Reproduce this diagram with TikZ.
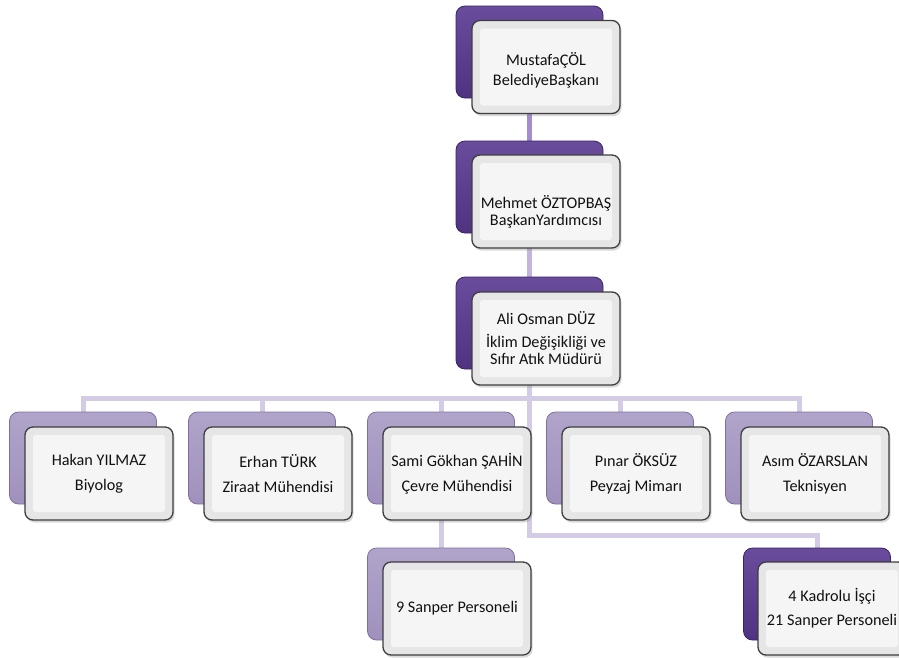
\documentclass[tikz,border=0pt]{standalone}
\usepackage{fontspec}
\setmainfont{Carlito}
\usetikzlibrary{shadows}
\definecolor{dptop}{HTML}{6A4C9C}
\definecolor{dpbot}{HTML}{503282}
\definecolor{dpline}{HTML}{3A2266}
\definecolor{lptop}{HTML}{B0A4CA}
\definecolor{lpbot}{HTML}{9F91BC}
\definecolor{lpline}{HTML}{7E709E}
\definecolor{rim}{HTML}{E6E6E6}
\definecolor{innerc}{HTML}{F5F5F5}
\definecolor{boxline}{HTML}{3E3E3E}
\definecolor{txt}{HTML}{111111}
\definecolor{lavA}{HTML}{A38DCB}
\definecolor{lavB}{HTML}{C2B6DC}
\definecolor{lav}{HTML}{D3CCE4}
\pgfdeclarelayer{bg}
\pgfsetlayers{bg,main}
\tikzset{
  frontbox/.style={draw=boxline, line width=1.3pt, rounded corners=8pt, fill=rim,
    minimum width=148pt, minimum height=93pt, inner sep=0pt, align=center, text=txt,
    font=\fontsize{16.2}{18}\selectfont,
    drop shadow={opacity=0.3, shadow xshift=1.5pt, shadow yshift=-2.5pt},
    path picture={\fill[innerc, rounded corners=3pt]
      ([shift={(8pt,8pt)}]path picture bounding box.south west) rectangle
      ([shift={(-8pt,-8pt)}]path picture bounding box.north east);}},
  darkback/.style={draw=dpline, line width=.8pt, rounded corners=9pt,
    top color=dptop, bottom color=dpbot, minimum width=147pt, minimum height=92pt},
  lightback/.style={draw=lpline, line width=.8pt, rounded corners=9pt,
    top color=lptop, bottom color=lpbot, minimum width=147pt, minimum height=92pt},
  conn/.style={line width=5pt, draw=lav}
}
\begin{document}
\begin{tikzpicture}[x=1pt, y=-1pt]
\useasboundingbox (0,0) rectangle (899,657);
\clip (0,0) rectangle (899,657);
% top chain
\node[darkback] (aback) at (529.5,52) {};
\node[frontbox] (a) at (546,67) {\rule{0pt}{20pt}MustafaÇÖL\\[2pt]BelediyeBaşkanı};
\node[darkback] (bback) at (529.5,187) {};
\node[frontbox] (b) at (546,201.5) {\rule{0pt}{34pt}Mehmet ÖZTOPBAŞ\\[-1pt]BaşkanYardımcısı};
\node[darkback] (cback) at (529.5,323) {};
\node[frontbox] (c) at (546,338.5) {Ali Osman DÜZ\\[5pt]İklim Değişikliği ve\\[-1pt]Sıfır Atık Müdürü};
% row
\node[lightback] (r1back) at (83,458) {};
\node[frontbox] (r1) at (99,473.5) {Hakan YILMAZ\\[7pt]Biyolog};
\node[lightback] (r2back) at (262,458) {};
\node[frontbox] (r2) at (278,473.5) {Erhan TÜRK\\[7pt]Ziraat Mühendisi};
\node[lightback] (r3back) at (441,458) {};
\node[frontbox] (r3) at (457,473.5) {Sami Gökhan ŞAHİN\\[7pt]Çevre Mühendisi};
\node[lightback] (r4back) at (620,458) {};
\node[frontbox] (r4) at (636,473.5) {Pınar ÖKSÜZ\\[7pt]Peyzaj Mimarı};
\node[lightback] (r5back) at (799,458) {};
\node[frontbox] (r5) at (815,473.5) {Asım ÖZARSLAN\\[7pt]Teknisyen};
% bottom
\node[lightback] (sback) at (441,594) {};
\node[frontbox] (s) at (457,608.5) {9 Sanper Personeli};
\node[darkback] (kback) at (817,594) {};
\node[frontbox] (k) at (832,608.5) {4 Kadrolu İşçi\\[6pt]21 Sanper Personeli};
\begin{pgfonlayer}{bg}
\draw[conn, draw=lavA] (aback.center) -- (bback.center);
\draw[conn, draw=lavB] (bback.center) -- (cback.center);
\draw[conn] (cback.center) -- (cback.center |- 0,535) -| (kback.center);
\draw[conn, line cap=rect] (r1back.center |- 0,398) -- (r5back.center |- 0,398);
\foreach \n in {r1back,r2back,r3back,r4back,r5back}
  \draw[conn] (\n.center |- 0,398) -- (\n.center);
\draw[conn] (r3back.center) -- (sback.center);
\end{pgfonlayer}
\end{tikzpicture}
\end{document}
